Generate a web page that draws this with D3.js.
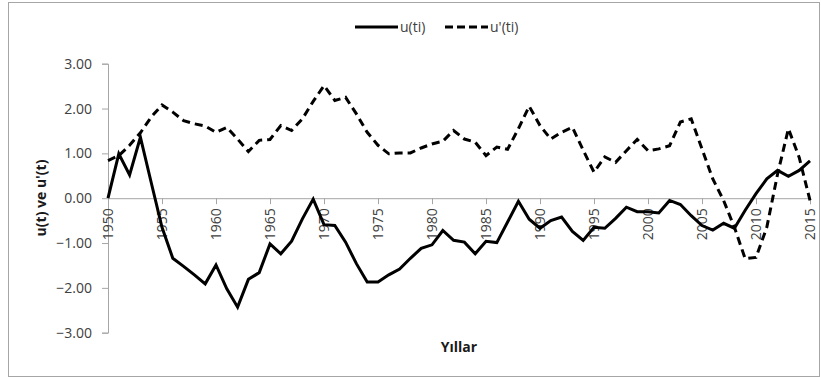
<!DOCTYPE html>
<html>
<head>
<meta charset="utf-8">
<script src="https://cdn.jsdelivr.net/npm/d3@7"></script>
<style>
  body { margin: 0; background: #fff; }
  text { font-family: "Open Sans", sans-serif; }
</style>
</head>
<body>
<div id="chart"></div>
<script>
// yillar ve seriler
var years = [1950,1951,1952,1953,1954,1955,1956,1957,1958,1959,
  1960,1961,1962,1963,1964,1965,1966,1967,1968,1969,
  1970,1971,1972,1973,1974,1975,1976,1977,1978,1979,
  1980,1981,1982,1983,1984,1985,1986,1987,1988,1989,
  1990,1991,1992,1993,1994,1995,1996,1997,1998,1999,
  2000,2001,2002,2003,2004,2005,2006,2007,2008,2009,
  2010,2011,2012,2013,2014,2015];

var u = [0.00,0.99,0.52,1.36,0.35,-0.65,-1.34,-1.52,-1.71,-1.91,
  -1.49,-2.02,-2.43,-1.81,-1.66,-1.02,-1.24,-0.96,-0.46,-0.02,
  -0.59,-0.61,-0.98,-1.46,-1.87,-1.87,-1.71,-1.58,-1.34,-1.12,
  -1.04,-0.72,-0.94,-0.98,-1.24,-0.96,-0.99,-0.53,-0.07,-0.47,
  -0.67,-0.50,-0.42,-0.74,-0.94,-0.65,-0.67,-0.45,-0.20,-0.30,
  -0.30,-0.33,-0.05,-0.14,-0.39,-0.61,-0.71,-0.56,-0.67,-0.27,
  0.10,0.43,0.62,0.49,0.62,0.83];

var uPrime = [0.84,0.95,1.18,1.46,1.81,2.08,1.92,1.73,1.66,1.61,
  1.47,1.58,1.32,1.04,1.29,1.31,1.62,1.51,1.77,2.16,
  2.51,2.18,2.25,1.88,1.47,1.18,0.99,1.01,1.01,1.12,
  1.21,1.27,1.51,1.32,1.25,0.95,1.14,1.09,1.55,2.05,
  1.62,1.32,1.47,1.58,1.07,0.58,0.92,0.80,1.06,1.31,
  1.06,1.10,1.17,1.70,1.77,1.10,0.43,-0.05,-0.65,-1.35,
  -1.32,-0.65,0.54,1.55,0.91,-0.05];

var xTicks = [1950,1955,1960,1965,1970,1975,1980,1985,1990,1995,2000,2005,2010,2015];
var yTicks = [-3,-2,-1,0,1,2,3];
var seriesNames = ["u(ti)", "u'(ti)"];

var width = 821, height = 378;

var svg = d3.select('#chart').append('svg')
  .attr('width', width)
  .attr('height', height);

svg.append('rect')
  .attr('x', 8.5).attr('y', 2.5)
  .attr('width', 811).attr('height', 374)
  .style('fill', '#fff')
  .style('stroke', '#a6a6a6');

var x = d3.scaleLinear().domain([1950, 2015]).range([108, 810]);
var y = d3.scaleLinear().domain([-3, 3]).range([332.7, 63.7]);

// y ekseni
var yAxis = svg.append('g')
  .attr('transform', 'translate(108,0)')
  .call(d3.axisLeft(y).tickValues(yTicks).tickFormat(d3.format('.2f')).tickSizeOuter(0).tickSize(6).tickPadding(10));

// x ekseni (sifir cizgisinde)
var xAxis = svg.append('g')
  .attr('transform', 'translate(0,' + y(0) + ')')
  .call(d3.axisBottom(x).tickValues(xTicks).tickFormat(d3.format('d')).tickSizeOuter(0).tickSize(6));

xAxis.selectAll('text')
  .attr('transform', 'translate(0,10) rotate(-90)')
  .attr('x', 0).attr('y', 0)
  .attr('dy', '0.35em')
  .style('text-anchor', 'end');

svg.selectAll('.domain, .tick line').style('stroke', '#a6a6a6');
svg.selectAll('.tick text')
  .style('font-size', '14px')
  .style('fill', '#404040')
  .style('font-family', '"Open Sans", sans-serif');

var line = d3.line()
  .x(function(d, i) { return x(years[i]); })
  .y(function(d) { return y(d); });

svg.append('path')
  .datum(uPrime)
  .attr('d', line)
  .style('fill', 'none')
  .style('stroke', '#000')
  .style('stroke-width', 3)
  .style('stroke-dasharray', '8,5');

svg.append('path')
  .datum(u)
  .attr('d', line)
  .style('fill', 'none')
  .style('stroke', '#000')
  .style('stroke-width', 3);

// eksen basliklari
svg.append('text')
  .attr('transform', 'translate(46,198) rotate(-90)')
  .attr('text-anchor', 'middle')
  .style('font-size', '14px')
  .style('font-weight', 'bold')
  .style('fill', '#1a1a1a')
  .text("u(t) ve u'(t)");

svg.append('text')
  .attr('x', 459).attr('y', 352)
  .attr('text-anchor', 'middle')
  .style('font-size', '14px')
  .style('font-weight', 'bold')
  .style('fill', '#1a1a1a')
  .text('Yıllar');

// lejant
var legend = svg.append('g').attr('transform', 'translate(0,27)');
legend.append('line')
  .attr('x1', 355).attr('x2', 398).attr('y1', 0).attr('y2', 0)
  .style('stroke', '#000').style('stroke-width', 3);
legend.append('text')
  .attr('x', 400).attr('y', 5)
  .style('font-size', '14px').style('fill', '#404040')
  .text(seriesNames[0]);
legend.append('line')
  .attr('x1', 445).attr('x2', 488).attr('y1', 0).attr('y2', 0)
  .style('stroke', '#000').style('stroke-width', 3)
  .style('stroke-dasharray', '8,4');
legend.append('text')
  .attr('x', 490).attr('y', 5)
  .style('font-size', '14px').style('fill', '#404040')
  .text(seriesNames[1]);
</script>
</body>
</html>
